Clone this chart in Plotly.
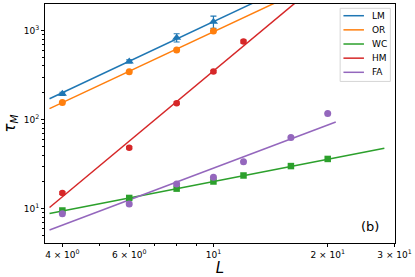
import numpy as np
import plotly.graph_objects as go

# ---- data ----
L_main = [4, 6, 8, 10]
L_hm = [4, 6, 8, 10, 12]
L_all = [4, 6, 8, 10, 12, 16, 20]

tau_LM = [195, 450, 832, 1253]
err_LM = [8, 18, 88, 195]
tau_OR = [156, 345, 605, 990]
tau_HM = [15.0, 48.4, 153, 346, 752]
err_HM = [0.5, 1.5, 5, 10, 30]
tau_WC = [9.55, 13.2, 16.8, 20.2, 23.6, 30.1, 36.2]
tau_FA = [8.77, 11.3, 18.9, 22.6, 33.6, 63.2, 117]

# power-law fits: log10(tau) = a + b*log10(L)
fit_names = ["LM", "OR", "WC", "HM", "FA"]
fit_a = [1.096, 0.988, 0.476, -1.002, -0.152]
fit_b = [2.004, 1.998, 0.829, 3.548, 1.607]
fit_Lmin = [3.7, 3.7, 3.7, 3.7, 3.7]
fit_Lmax = [28.2, 28.2, 28.2, 28.2, 21.0]

colors = {"LM": "#1f77b4", "OR": "#ff7f0e", "WC": "#2ca02c",
          "HM": "#d62728", "FA": "#9467bd"}

x_tickvals = [4, 6, 10, 20, 30]
x_ticktext = ["4 × 10<sup>0</sup>", "6 × 10<sup>0</sup>", "10<sup>1</sup>",
              "2 × 10<sup>1</sup>", "3 × 10<sup>1</sup>"]
x_minor = [5, 7, 8, 9]
y_tickvals = [10, 100, 1000]
y_ticktext = ["10<sup>1</sup>", "10<sup>2</sup>", "10<sup>3</sup>"]
y_minor = [5, 6, 7, 8, 9, 20, 30, 40, 50, 60, 70, 80, 90,
           200, 300, 400, 500, 600, 700, 800, 900]

fig = go.Figure()

# fit lines
for name, a, b, lo, hi in zip(fit_names, fit_a, fit_b, fit_Lmin, fit_Lmax):
    Lf = np.array([lo, hi])
    tf = 10 ** a * Lf ** b
    fig.add_trace(go.Scatter(x=Lf, y=tf, mode="lines", name=name,
                             showlegend=False,
                             line=dict(color=colors[name], width=1.5)))

# data markers
def markers(x, y, name, symbol, size, err=None):
    kw = {}
    if err is not None:
        kw["error_y"] = dict(type="data", array=err, visible=True,
                             color=colors[name], thickness=1.2, width=3)
    fig.add_trace(go.Scatter(x=x, y=y, mode="markers", showlegend=False,
                             name=name + " data",
                             marker=dict(color=colors[name], symbol=symbol,
                                         size=size, line=dict(width=0)),
                             **kw))

markers(L_main, tau_LM, "LM", "triangle-up", 8, err_LM)
markers(L_main, tau_OR, "OR", "circle", 7)
markers(L_all, tau_WC, "WC", "square", 6.5)
markers(L_hm, tau_HM, "HM", "circle", 6.5, err_HM)
markers(L_all, tau_FA, "FA", "circle", 7)

# legend box (matplotlib-style, compact)
leg_x0, leg_x1, leg_y0, leg_y1 = 0.8433, 0.9867, 0.676, 0.982
fig.add_shape(type="rect", xref="paper", yref="paper",
              x0=leg_x0, x1=leg_x1, y0=leg_y0, y1=leg_y1,
              line=dict(color="#d5d5d5", width=1),
              fillcolor="rgba(255,255,255,0.85)", layer="above")
row_y0, row_step = 0.951, 0.0592
for i, name in enumerate(fit_names):
    yy = row_y0 - i * row_step
    fig.add_shape(type="line", xref="paper", yref="paper",
                  x0=0.8527, x1=0.9113, y0=yy, y1=yy,
                  line=dict(color=colors[name], width=1.5), layer="above")
    fig.add_annotation(x=0.929, y=yy, xref="paper", yref="paper",
                       text=name, showarrow=False, xanchor="left",
                       yanchor="middle",
                       font=dict(size=9, color="black", family="DejaVu Sans"))

fig.add_annotation(x=0.929, y=0.07, xref="paper", yref="paper",
                   text="(b)", showarrow=False, xanchor="center",
                   yanchor="middle",
                   font=dict(size=13, color="black", family="DejaVu Sans"))

fig.update_layout(
    width=415, height=277,
    margin=dict(l=45, r=17, t=3, b=34),
    paper_bgcolor="white", plot_bgcolor="white",
    showlegend=False,
    font=dict(family="DejaVu Sans", size=9, color="black"),
    xaxis=dict(type="log", range=[np.log10(3.6), np.log10(30.08)],
               showline=True, linecolor="black", linewidth=1, mirror=True,
               showgrid=False, zeroline=False,
               tickmode="array", tickvals=x_tickvals, ticktext=x_ticktext,
               ticks="outside", ticklen=3, tickcolor="black",
               minor=dict(tickmode="array", tickvals=x_minor, ticks="outside",
                          ticklen=2, tickcolor="black", showgrid=False),
               title=dict(text="<i>L</i>", font=dict(size=15), standoff=2)),
    yaxis=dict(type="log", range=[0.615, 3.298],
               showline=True, linecolor="black", linewidth=1, mirror=True,
               showgrid=False, zeroline=False,
               tickmode="array", tickvals=y_tickvals, ticktext=y_ticktext,
               ticks="outside", ticklen=3, tickcolor="black",
               minor=dict(tickmode="array", tickvals=y_minor, ticks="outside",
                          ticklen=2, tickcolor="black", showgrid=False),
               title=dict(text="<i>τ<sub>M</sub></i>", font=dict(size=15),
                          standoff=4)),
)

fig.write_html("out.html", config={"displayModeBar": False},
               post_script="document.body.style.margin='0';")
